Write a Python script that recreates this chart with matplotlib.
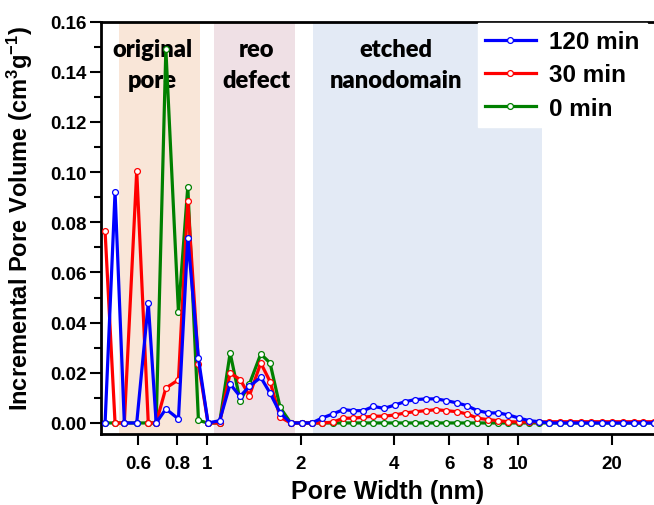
import matplotlib
matplotlib.use("Agg")
import matplotlib.pyplot as plt
from matplotlib.ticker import FixedLocator, FixedFormatter, MultipleLocator, NullLocator

plt.rcParams['font.family'] = ['Liberation Sans', 'DejaVu Sans']
plt.rcParams['font.weight'] = 'bold'
plt.rcParams['mathtext.fontset'] = 'custom'
plt.rcParams['mathtext.bf'] = 'Liberation Sans:bold'
plt.rcParams['mathtext.rm'] = 'Liberation Sans:bold'
plt.rcParams['mathtext.it'] = 'Liberation Sans:bold'

# Pore width (nm)
pore_width = [0.470, 0.506, 0.542, 0.594, 0.647, 0.686, 0.737, 0.809, 0.867, 0.938,
              1.007, 1.097, 1.186, 1.277, 1.368, 1.488, 1.594, 1.717, 1.858, 2.016,
              2.171, 2.338, 2.537, 2.744, 2.954, 3.182, 3.425, 3.708, 4.022, 4.332,
              4.666, 5.061, 5.449, 5.868, 6.353, 6.840, 7.399, 8.027, 8.644, 9.307,
              10.10, 10.87, 11.71, 12.61, 13.65, 14.70, 15.91, 17.13, 18.58, 20.01,
              21.71, 23.49, 25.29, 27.37]

vol_120 = [0.0, 0.0920, 0.0, 0.0, 0.0478, 0.0, 0.0056, 0.0016, 0.0739, 0.0257,
           0.0, 0.0009, 0.0155, 0.0106, 0.0146, 0.0182, 0.0119, 0.0040, 0.0, 0.0,
           0.0, 0.0019, 0.0036, 0.0053, 0.0049, 0.0049, 0.0066, 0.0058, 0.0072, 0.0085,
           0.0093, 0.0096, 0.0096, 0.0089, 0.0080, 0.0069, 0.0049, 0.0040, 0.0040, 0.0032,
           0.0019, 0.0009, 0.0005, 0.0, 0.0, 0.0, 0.0, 0.0, 0.0, 0.0,
           0.0, 0.0, 0.0, 0.0]

vol_30 = [0.0764, 0.0, 0.0, 0.1004, 0.0, 0.0, 0.0139, 0.0172, 0.0885, 0.0235,
          0.0, 0.0, 0.0199, 0.0173, 0.0109, 0.0239, 0.0165, 0.0023, 0.0, 0.0,
          0.0, 0.0, 0.0003, 0.0019, 0.0019, 0.0023, 0.0027, 0.0027, 0.0032, 0.0040,
          0.0045, 0.0049, 0.0053, 0.0049, 0.0045, 0.0036, 0.0019, 0.0013, 0.0009, 0.0005,
          0.0004, 0.0004, 0.0004, 0.0005, 0.0005, 0.0005, 0.0005, 0.0005, 0.0005, 0.0005,
          0.0005, 0.0005, 0.0005, 0.0005]

vol_0 = [0.0, 0.0, 0.0, 0.0, 0.0, 0.0, 0.1490, 0.0442, 0.0942, 0.0010,
         0.0, 0.0, 0.0279, 0.0089, 0.0155, 0.0275, 0.0239, 0.0062, 0.0, 0.0,
         0.0, 0.0, 0.0, 0.0, 0.0, 0.0, 0.0, 0.0, 0.0, 0.0,
         0.0, 0.0, 0.0, 0.0, 0.0, 0.0, 0.0, 0.0, 0.0, 0.0,
         0.0, 0.0, 0.0, 0.0, 0.0, 0.0, 0.0, 0.0, 0.0, 0.0,
         0.0, 0.0, 0.0, 0.0]

series_labels = ['120 min', '30 min', '0 min']
series_colors = ['#0000ff', '#ff0000', '#008000']

regions = [(0.521, 0.949, '#f9e6d8', 'original\npore', 0.668),
           (1.053, 1.918, '#efe0e5', 'reo\ndefect', 1.44),
           (2.197, 11.9, '#e3eaf5', 'etched\nnanodomain', 4.05)]

xticks = [0.6, 0.8, 1, 2, 4, 6, 8, 10, 20]
xtick_labels = ['0.6', '0.8', '1', '2', '4', '6', '8', '10', '20']
yticks = [0.00, 0.02, 0.04, 0.06, 0.08, 0.10, 0.12, 0.14, 0.16]

W, H = 654, 506
fig = plt.figure(figsize=(W / 100, H / 100), dpi=100)
ax = fig.add_axes([101 / W, 1 - 435 / H, 573 / W, (435 - 22.5) / H])

for x0, x1, c, txt, xc in regions:
    ax.axvspan(x0, x1, color=c, zorder=0, lw=0)
    ax.text(xc, 0.1535, txt, ha='center', va='top', fontsize=17, fontweight='heavy',
            family=['Lato', 'DejaVu Sans'], linespacing=1.5, zorder=1)

lines = []
for ys, lab, col, z in [(vol_0, '0 min', '#008000', 2),
                        (vol_30, '30 min', '#ff0000', 3),
                        (vol_120, '120 min', '#0000ff', 4)]:
    ln, = ax.plot(pore_width, ys, color=col, lw=2.3, marker='o', ms=4.2,
                  mfc='white', mec=col, mew=0.9, label=lab, zorder=z)
    lines.append(ln)

ax.set_xscale('log')
ax.set_xlim(0.456, 31.7)
ax.set_ylim(-0.0044, 0.16)

ax.xaxis.set_major_locator(FixedLocator(xticks))
ax.xaxis.set_major_formatter(FixedFormatter(xtick_labels))
ax.xaxis.set_minor_locator(NullLocator())
ax.yaxis.set_major_locator(FixedLocator(yticks))
ax.yaxis.set_minor_locator(MultipleLocator(0.01))
ax.yaxis.set_major_formatter(FixedFormatter(['%.2f' % v for v in yticks]))

ax.tick_params(axis='both', which='major', direction='out', length=8, width=1.5,
               labelsize=13.5)
ax.tick_params(axis='y', which='minor', direction='out', length=5, width=1.5)
ax.tick_params(axis='x', pad=7)
ax.tick_params(axis='y', pad=2)
for lbl in ax.get_xticklabels() + ax.get_yticklabels():
    lbl.set_fontweight('bold')

for s in ['left', 'bottom', 'top']:
    ax.spines[s].set_linewidth(2)
ax.spines['right'].set_visible(False)

ax.set_xlabel('Pore Width (nm)', fontsize=18, fontweight='bold', va='center')
ax.xaxis.set_label_coords(0.5, (435 - 492) / 412.5)
ax.set_ylabel(r'Incremental Pore Volume (cm$^{3}$g$^{-1}$)', fontsize=17,
              fontweight='bold', va='center')
ax.yaxis.set_label_coords((20 - 101) / 573, (435 - 218) / 412.5)

order = [2, 1, 0]
leg = ax.legend([lines[i] for i in order], [lines[i].get_label() for i in order],
                loc='upper right', bbox_to_anchor=(647 / W, 1 - 24 / H),
                bbox_transform=fig.transFigure, frameon=True, fancybox=False,
                edgecolor='white', framealpha=1, fontsize=17.5, handlelength=2.1,
                handletextpad=0.55, labelspacing=0.42, borderpad=0.3,
                borderaxespad=0)
for t in leg.get_texts():
    t.set_fontweight('bold')
leg.set_zorder(10)

fig.savefig('out.png', dpi=100)
